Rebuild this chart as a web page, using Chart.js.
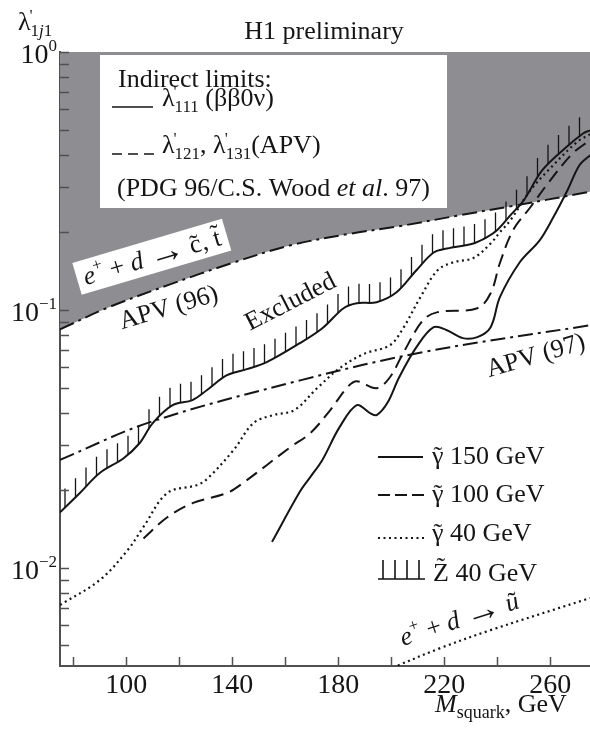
<!DOCTYPE html>
<html lang="en">
<head>
<meta charset="UTF-8" />
<title>H1 preliminary - lambda'1j1 limits</title>
<style>
  html, body { margin: 0; padding: 0; background: #fff; }
  #wrap { width: 590px; height: 731px; position: relative; }
</style>
</head>
<body>
<div id="wrap"><canvas id="chart"></canvas></div>
<script src="https://cdn.jsdelivr.net/npm/chart.js"></script>
<script>
// values (M in GeV, lambda' dimensionless)
const apv96X = [75, 93, 116, 140, 162, 184, 203, 226, 245, 275];
const apv96Y = [0.084, 0.102, 0.125, 0.152, 0.178, 0.197, 0.211, 0.233, 0.252, 0.287];

const apv97X = [75, 109, 166, 212, 275];
const apv97Y = [0.0262, 0.0367, 0.0534, 0.0686, 0.0872];

const z40X = [75, 82.5, 90, 99, 105, 110, 117.5, 125, 130.5, 138, 145.5, 153, 165.5, 174, 182, 187, 194.5, 202, 209.5, 216, 221, 231, 236, 240, 245, 250, 257, 266, 272.5, 275];
const z40Y = [0.0164, 0.0195, 0.0233, 0.0266, 0.0304, 0.0364, 0.0427, 0.0447, 0.0489, 0.0558, 0.0589, 0.0627, 0.0743, 0.0849, 0.1015, 0.1062, 0.1071, 0.117, 0.1425, 0.167, 0.173, 0.181, 0.191, 0.204, 0.233, 0.266, 0.348, 0.427, 0.484, 0.497];

const g150X = [155, 165.5, 169.5, 174, 180.5, 187, 192, 194.5, 198.5, 203, 209.5, 216, 221, 227, 232.5, 237.5, 241, 248.5, 256, 261, 266.5, 271, 275];
const g150Y = [0.0126, 0.0197, 0.0225, 0.0262, 0.0351, 0.0427, 0.0398, 0.0391, 0.0435, 0.0548, 0.0717, 0.0857, 0.0834, 0.0777, 0.0784, 0.0857, 0.112, 0.153, 0.186, 0.227, 0.291, 0.364, 0.398];

const g100X = [106.5, 115.5, 125, 138, 144, 162, 169.5, 177, 183.5, 187, 194.5, 199.5, 204.5, 212, 217.5, 232.5, 237.5, 241, 246, 252.5, 260, 268.5, 275];
const g100Y = [0.0130, 0.0157, 0.0178, 0.0195, 0.0213, 0.0294, 0.0333, 0.0409, 0.0502, 0.0529, 0.0497, 0.0548, 0.0680, 0.0912, 0.098, 0.1015, 0.116, 0.152, 0.204, 0.250, 0.318, 0.405, 0.455];

const g40X = [75, 90, 100.5, 106.5, 115.5, 126.5, 130.5, 140.5, 148, 155.5, 163.5, 172, 180.5, 189.5, 199.5, 204.5, 211, 217.5, 223.5, 231, 237.5, 241, 245, 252.5, 260, 270, 275];
const g40Y = [0.00717, 0.00896, 0.0117, 0.0144, 0.0195, 0.0209, 0.0221, 0.0286, 0.0364, 0.0391, 0.0409, 0.0497, 0.0594, 0.0674, 0.0730, 0.0849, 0.112, 0.1425, 0.153, 0.159, 0.181, 0.200, 0.223, 0.291, 0.354, 0.447, 0.480];

// e+ + d -> u~ kinematic line
const uX = [200.5, 218.5, 237.5, 275];
const uY = [0.0041, 0.00488, 0.00573, 0.00763];

const xMajor = [100, 140, 180, 220, 260];
const xMinor = [80, 120, 160, 200, 240];
const yExps = [0, -1, -2];

const ink = '#151515';
const axisCol = '#505050';
const grey = '#8e8e92';
const serif = '"Liberation Serif", "DejaVu Serif", serif';

function fnt(size, italic) {
  return (italic ? 'italic ' : '') + size + 'px ' + serif;
}

function pairs(xs, ys) {
  return xs.map((x, i) => ({ x: x, y: ys[i] }));
}

// draws a list of text pieces left to right, returns the end x
function runs(ctx, x, y, parts, dry) {
  for (const p of parts) {
    const s = p.s || 26;
    ctx.font = fnt(s, p.i);
    const w = ctx.measureText(p.t).width;
    if (!dry) {
      ctx.fillText(p.t, x, y + (p.dy || 0));
      if (p.tl) {
        ctx.save();
        ctx.textAlign = 'center';
        ctx.font = fnt(s);
        ctx.fillText('\u02DC', x + w / 2 + (p.i ? 2 : 0), y + (p.dy || 0) - (p.up || 0));
        ctx.restore();
      }
    }
    x += w;
  }
  return x;
}

// lambda with prime and subscript
function lam(ctx, x, y, sub) {
  ctx.font = fnt(26);
  ctx.fillText('\u03BB', x, y);
  const w = ctx.measureText('\u03BB').width;
  ctx.font = fnt(17);
  ctx.fillText("'", x + w - 1, y - 9);
  return runs(ctx, x + w, y + 6, sub.map(p => Object.assign({ s: 17 }, p)));
}

// sample the bezier curve chart.js drew for a dataset
function polyline(points) {
  const out = [];
  for (let i = 0; i < points.length - 1; i++) {
    const a = points[i], b = points[i + 1];
    const c1x = a.cp2x ?? a.x, c1y = a.cp2y ?? a.y;
    const c2x = b.cp1x ?? b.x, c2y = b.cp1y ?? b.y;
    for (let k = 0; k <= 16; k++) {
      const t = k / 16, m = 1 - t;
      out.push({
        x: m * m * m * a.x + 3 * m * m * t * c1x + 3 * m * t * t * c2x + t * t * t * b.x,
        y: m * m * m * a.y + 3 * m * m * t * c1y + 3 * m * t * t * c2y + t * t * t * b.y
      });
    }
  }
  return out;
}

function yAt(poly, px) {
  for (let j = 0; j < poly.length - 1; j++) {
    const p = poly[j], q = poly[j + 1];
    if (p.x <= px && q.x >= px) {
      const f = q.x === p.x ? 0 : (px - p.x) / (q.x - p.x);
      return p.y + f * (q.y - p.y);
    }
  }
  return null;
}

const eArrow = [{ t: 'e', i: 1 }, { t: '+', s: 17, dy: -11 }, { t: ' + ' }, { t: 'd', i: 1 }, { t: ' ' }, { t: '\u2192', s: 36, dy: 2 }, { t: ' ' }];

const decor = {
  id: 'decor',
  afterDraw(chart) {
    const { ctx, chartArea: a, scales } = chart;
    const X = v => scales.x.getPixelForValue(v);
    const Y = v => scales.y.getPixelForValue(v);
    ctx.save();
    ctx.fillStyle = ink;
    ctx.strokeStyle = ink;
    ctx.textAlign = 'left';
    ctx.textBaseline = 'alphabetic';

    // hatching above the Z~ 40 GeV curve
    const poly = polyline(chart.getDatasetMeta(0).data);
    ctx.save();
    ctx.beginPath();
    ctx.rect(a.left, a.top, a.right - a.left, a.bottom - a.top);
    ctx.clip();
    ctx.lineWidth = 1.3;
    ctx.beginPath();
    for (let px = a.left + 5; px < a.right; px += 10.5) {
      const py = yAt(poly, px);
      if (py == null) continue;
      ctx.moveTo(px, py);
      ctx.lineTo(px, py - 19);
    }
    ctx.stroke();
    ctx.restore();

    // tick marks, drawn inward
    ctx.strokeStyle = axisCol;
    ctx.lineWidth = 1.5;
    ctx.beginPath();
    for (const v of xMajor.concat(xMinor)) {
      const px = Math.round(X(v)) + 0.5;
      ctx.moveTo(px, a.bottom);
      ctx.lineTo(px, a.bottom - 9);
    }
    for (let e = -3; e <= 0; e++) {
      for (let m = 1; m <= 9; m++) {
        const v = m * Math.pow(10, e);
        if (v < scales.y.min || v > scales.y.max) continue;
        const py = Math.round(Y(v)) + 0.5;
        ctx.moveTo(a.left, py);
        ctx.lineTo(a.left + 9, py);
      }
    }
    ctx.stroke();

    // tick labels
    ctx.fillStyle = ink;
    ctx.font = fnt(28);
    ctx.textAlign = 'center';
    for (const v of xMajor) ctx.fillText(String(v), X(v), 693);
    ctx.textAlign = 'left';
    for (const e of yExps) {
      const py = Y(Math.pow(10, e));
      const sup = e === 0 ? '0' : '\u2212' + (-e);
      ctx.font = fnt(17);
      const ws = ctx.measureText(sup).width;
      ctx.font = fnt(28);
      const wb = ctx.measureText('10').width;
      const x0 = 57 - ws - wb;
      ctx.fillText('10', x0, py + 11);
      ctx.font = fnt(17);
      ctx.fillText(sup, x0 + wb, py - 1);
    }

    // axis titles and header
    lam(ctx, 18, 30, [{ t: '1' }, { t: 'j', i: 1 }, { t: '1' }]);
    runs(ctx, 435, 712, [{ t: 'M', i: 1 }, { t: 'squark', s: 18, dy: 6 }, { t: ', GeV' }]);
    ctx.font = fnt(26);
    ctx.textAlign = 'center';
    ctx.fillText('H1 preliminary', 324, 39);
    ctx.textAlign = 'left';

    // indirect limits box
    ctx.fillStyle = '#fff';
    ctx.fillRect(100, 55, 347, 153);
    ctx.fillStyle = ink;
    runs(ctx, 118, 87, [{ t: 'Indirect limits:' }]);
    ctx.lineWidth = 1.6;
    ctx.strokeStyle = ink;
    ctx.beginPath();
    ctx.moveTo(112, 107); ctx.lineTo(153, 107);
    ctx.stroke();
    let cx = lam(ctx, 162, 106, [{ t: '111' }]);
    runs(ctx, cx, 106, [{ t: ' (\u03B2\u03B20\u03BD)' }]);
    ctx.setLineDash([10, 6]);
    ctx.beginPath();
    ctx.moveTo(112, 154); ctx.lineTo(154, 154);
    ctx.stroke();
    ctx.setLineDash([]);
    cx = lam(ctx, 162, 153, [{ t: '121' }]);
    cx = runs(ctx, cx, 153, [{ t: ', ' }]);
    cx = lam(ctx, cx, 153, [{ t: '131' }]);
    runs(ctx, cx, 153, [{ t: '(APV)' }]);
    runs(ctx, 117, 196, [{ t: '(PDG 96/C.S. Wood ' }, { t: 'et al', i: 1 }, { t: '. 97)' }]);

    // rotated labels placed in data coordinates
    const ctParts = eArrow.concat([{ t: 'c', tl: 1 }, { t: ', ' }, { t: 't', tl: 1, up: 4 }]);
    ctx.save();
    ctx.translate(X(109.7), Y(0.16));
    ctx.rotate(-16.5 * Math.PI / 180);
    ctx.fillStyle = '#fff';
    ctx.fillRect(-78, -17, 156, 33);
    ctx.fillStyle = ink;
    const tw = runs(ctx, 0, 0, ctParts, true);
    runs(ctx, -tw / 2, 8, ctParts);
    ctx.restore();

    const labels = [
      { x: 98.4, y: 0.0842, deg: -16.5, parts: [{ t: 'APV (96)' }] },
      { x: 146.7, y: 0.0830, deg: -27, parts: [{ t: 'Excluded' }] },
      { x: 236.9, y: 0.0548, deg: -16.5, parts: [{ t: 'APV (97)' }] },
      { x: 204.4, y: 0.00497, deg: -18, parts: eArrow.concat([{ t: 'u', i: 1, tl: 1 }]) }
    ];
    for (const l of labels) {
      ctx.save();
      ctx.translate(X(l.x), Y(l.y));
      ctx.rotate(l.deg * Math.PI / 180);
      runs(ctx, 0, 0, l.parts);
      ctx.restore();
    }

    // legend, lower right
    ctx.lineWidth = 2;
    ctx.beginPath();
    ctx.moveTo(378, 457); ctx.lineTo(423, 457);
    ctx.stroke();
    runs(ctx, 432, 464, [{ t: '\u03B3', tl: 1 }, { t: ' 150 GeV' }]);
    ctx.setLineDash([12, 5]);
    ctx.beginPath();
    ctx.moveTo(378, 495); ctx.lineTo(424, 495);
    ctx.stroke();
    runs(ctx, 432, 502, [{ t: '\u03B3', tl: 1 }, { t: ' 100 GeV' }]);
    ctx.setLineDash([2, 3.5]);
    ctx.beginPath();
    ctx.moveTo(378, 538); ctx.lineTo(424, 538);
    ctx.stroke();
    ctx.setLineDash([]);
    runs(ctx, 432, 541, [{ t: '\u03B3', tl: 1 }, { t: ' 40 GeV' }]);
    ctx.lineWidth = 1.6;
    ctx.beginPath();
    ctx.moveTo(378, 579); ctx.lineTo(425, 579);
    for (const hx of [383, 395, 407, 419]) { ctx.moveTo(hx, 579); ctx.lineTo(hx, 560); }
    ctx.stroke();
    runs(ctx, 433, 581, [{ t: 'Z', tl: 1, up: 6 }, { t: ' 40 GeV' }]);

    ctx.restore();
  }
};

const line = (xs, ys, extra) => Object.assign({
  data: pairs(xs, ys),
  borderColor: ink,
  borderWidth: 2,
  tension: 0.35,
  fill: false
}, extra);

new Chart(document.getElementById('chart'), {
  type: 'line',
  data: {
    datasets: [
      line(z40X, z40Y, { label: 'Z~ 40 GeV' }),
      line(g150X, g150Y, { label: 'gamma~ 150 GeV' }),
      line(g100X, g100Y, { label: 'gamma~ 100 GeV', borderDash: [13, 7] }),
      line(g40X, g40Y, { label: 'gamma~ 40 GeV', borderDash: [2, 3.5], borderWidth: 2.2 }),
      line(apv97X, apv97Y, { label: 'APV (97)', borderDash: [15, 5, 3, 5] }),
      line(uX, uY, { label: 'e+ d -> u~', borderDash: [2, 3.5], borderWidth: 2.2 }),
      line(apv96X, apv96Y, { label: 'APV (96)', borderDash: [15, 5, 3, 5], fill: 'end', backgroundColor: grey })
    ]
  },
  options: {
    responsive: true,
    maintainAspectRatio: false,
    animation: false,
    events: [],
    layout: { padding: { top: 52, left: 0, right: 0, bottom: 0 } },
    elements: { point: { radius: 0 } },
    plugins: { legend: { display: false }, tooltip: { enabled: false } },
    scales: {
      x: {
        type: 'linear', min: 75, max: 275,
        grid: { display: false },
        border: { display: true, color: axisCol, width: 2 },
        ticks: { display: false },
        afterFit(s) { s.height = 65; }
      },
      y: {
        type: 'logarithmic', min: 0.00416, max: 1,
        grid: { display: false },
        border: { display: true, color: axisCol, width: 2 },
        ticks: { display: false },
        afterFit(s) { s.width = 60; }
      }
    }
  },
  plugins: [decor]
});
</script>
</body>
</html>
